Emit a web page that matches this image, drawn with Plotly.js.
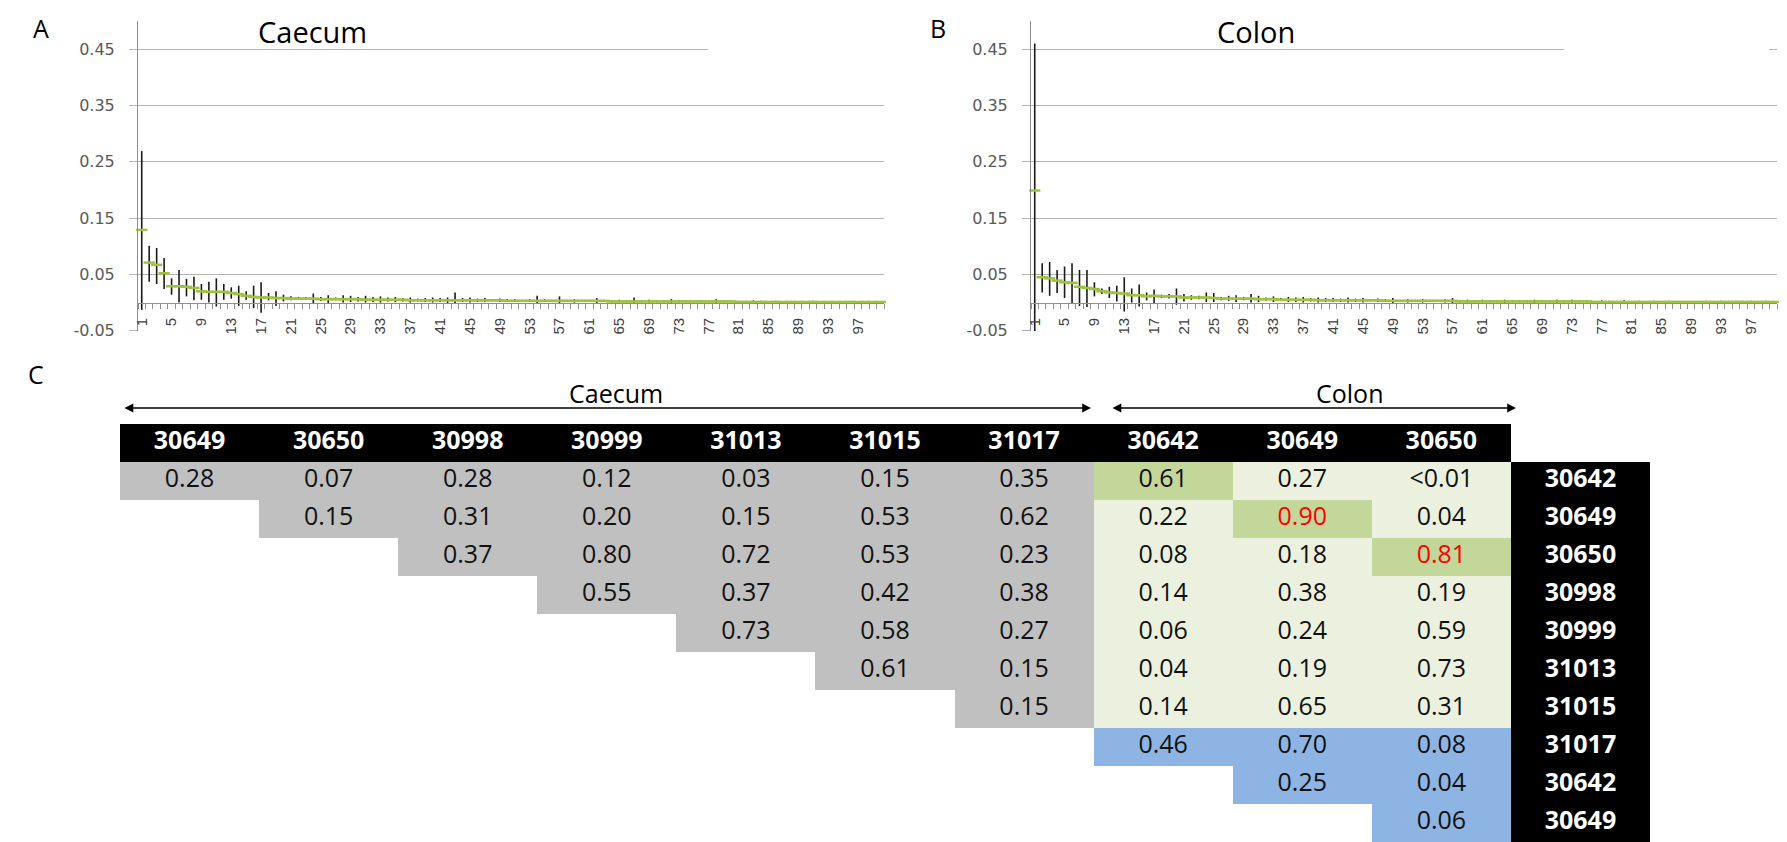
<!DOCTYPE html>
<html>
<head>
<meta charset="utf-8">
<script src="https://cdn.plot.ly/plotly-3.0.1.min.js"></script>
<style>html,body{margin:0;padding:0;background:#fff;}#chart{width:1787px;height:842px;}</style>
</head>
<body>
<div id="chart"></div>
<script>
// ---------- Panel A / B data (100 categories) ----------
const categories = Array.from({length: 100}, (_, i) => i + 1);
const xTickLabels = ['1','5','9','13','17','21','25','29','33','37','41','45','49','53','57','61','65','69','73','77','81','85','89','93','97'];
const yTickValues = [-0.05, 0.05, 0.15, 0.25, 0.35, 0.45];
const yTickLabels = ['-0.05', '0.05', '0.15', '0.25', '0.35', '0.45'];

const caecumMean = [0.129,0.071,0.067,0.052,0.029,0.029,0.028,0.026,0.020,0.019,
 0.019,0.019,0.017,0.015,0.012,0.010,0.009,0.009,0.008,0.008,
 0.007,0.007,0.007,0.007,0.006,0.006,0.006,0.006,0.006,0.006,
 0.005,0.005,0.005,0.005,0.005,0.005,0.004,0.004,0.004,0.004,
 0.004,0.004,0.004,0.004,0.004,0.004,0.004,0.004,0.004,0.003,
 0.003,0.003,0.003,0.003,0.003,0.003,0.003,0.003,0.003,0.003,
 0.003,0.003,0.003,0.002,0.002,0.002,0.002,0.002,0.002,0.002,
 0.002,0.002,0.002,0.002,0.002,0.002,0.002,0.002,0.002,0.002,
 0.001,0.001,0.001,0.001,0.001,0.001,0.001,0.001,0.001,0.001,
 0.001,0.001,0.001,0.001,0.001,0.001,0.001,0.001,0.001,0.001];
const caecumHigh = [0.269,0.101,0.097,0.079,0.043,0.058,0.042,0.046,0.033,0.037,
 0.043,0.033,0.027,0.030,0.020,0.030,0.036,0.017,0.020,0.014,
 0.011,0.010,0.010,0.016,0.010,0.013,0.009,0.013,0.012,0.010,
 0.012,0.010,0.011,0.009,0.010,0.008,0.009,0.007,0.008,0.009,
 0.008,0.009,0.018,0.008,0.009,0.007,0.008,0.006,0.007,0.006,
 0.006,0.005,0.006,0.012,0.006,0.005,0.011,0.005,0.006,0.005,
 0.005,0.008,0.005,0.004,0.005,0.004,0.009,0.004,0.005,0.004,
 0.004,0.006,0.004,0.004,0.003,0.004,0.003,0.006,0.003,0.003,
 0.003,0.003,0.004,0.003,0.002,0.003,0.002,0.003,0.002,0.002,
 0.003,0.002,0.002,0.002,0.002,0.003,0.002,0.002,0.002,0.002];
const caecumLow = [-0.013,0.037,0.033,0.024,0.014,0.000,0.011,0.004,0.005,0.000,
 -0.007,0.005,0.007,-0.006,0.005,-0.010,-0.018,0.004,-0.006,0.002,
 0.004,0.005,0.005,-0.002,0.003,-0.001,0.004,0.000,0.001,0.002,
 0.000,0.001,0.000,0.002,0.001,0.002,0.000,0.002,0.001,0.000,
 0.001,-0.001,-0.002,0.001,0.000,0.001,0.001,0.002,0.001,0.001,
 0.001,0.001,0.001,-0.002,0.001,0.001,-0.002,0.001,0.000,0.001,
 0.001,-0.001,0.001,0.000,0.000,0.000,-0.002,0.000,0.000,0.000,
 0.000,-0.001,0.000,0.000,0.000,0.000,0.000,-0.002,0.000,0.000,
 -0.001,-0.001,-0.001,-0.001,-0.001,-0.001,-0.001,-0.001,-0.001,-0.001,
 -0.001,-0.001,-0.001,-0.001,-0.001,-0.001,-0.001,-0.001,-0.001,-0.001];

const colonMean = [0.199,0.045,0.043,0.039,0.036,0.035,0.028,0.026,0.024,0.020,
 0.018,0.017,0.016,0.013,0.013,0.011,0.012,0.011,0.011,0.011,
 0.009,0.009,0.009,0.009,0.008,0.007,0.007,0.007,0.007,0.007,
 0.006,0.006,0.006,0.005,0.005,0.005,0.005,0.005,0.004,0.004,
 0.004,0.004,0.004,0.004,0.004,0.004,0.004,0.003,0.003,0.003,
 0.003,0.003,0.003,0.003,0.003,0.003,0.003,0.002,0.002,0.002,
 0.002,0.002,0.002,0.002,0.002,0.002,0.002,0.002,0.002,0.002,
 0.002,0.002,0.002,0.002,0.002,0.001,0.001,0.001,0.001,0.001,
 0.001,0.001,0.001,0.001,0.001,0.001,0.001,0.001,0.001,0.001,
 0.001,0.001,0.001,0.001,0.001,0.001,0.001,0.001,0.001,0.001];
const colonHigh = [0.460,0.070,0.072,0.058,0.064,0.070,0.058,0.058,0.036,0.025,
 0.028,0.030,0.045,0.025,0.032,0.018,0.023,0.014,0.015,0.025,
 0.015,0.013,0.012,0.018,0.017,0.010,0.012,0.013,0.010,0.015,
 0.012,0.009,0.011,0.008,0.010,0.009,0.010,0.008,0.009,0.008,
 0.008,0.007,0.009,0.007,0.008,0.006,0.007,0.006,0.008,0.005,
 0.006,0.005,0.006,0.005,0.005,0.006,0.008,0.004,0.005,0.004,
 0.005,0.004,0.004,0.005,0.004,0.004,0.004,0.005,0.004,0.004,
 0.005,0.004,0.005,0.004,0.004,0.003,0.004,0.003,0.003,0.004,
 0.003,0.003,0.003,0.003,0.003,0.003,0.003,0.003,0.003,0.003,
 0.003,0.003,0.003,0.003,0.003,0.003,0.003,0.003,0.003,0.003];
const colonLow = [-0.051,0.018,0.012,0.017,0.008,-0.001,-0.006,-0.008,0.011,0.015,
 0.008,0.002,-0.016,0.000,-0.007,0.004,-0.001,0.008,0.007,-0.004,
 0.002,0.005,0.006,0.001,0.001,0.004,0.003,0.001,0.004,0.000,
 0.001,0.003,0.001,0.003,0.001,0.001,0.000,0.002,0.000,0.001,
 0.001,0.001,0.000,0.001,0.000,0.002,0.001,0.001,-0.001,0.001,
 0.000,0.001,0.000,0.001,0.001,0.000,-0.001,0.000,0.000,0.000,
 0.000,0.000,0.000,-0.001,0.000,0.000,0.000,-0.001,0.000,0.000,
 -0.001,0.000,-0.001,0.000,0.000,-0.001,-0.001,-0.001,-0.001,-0.001,
 -0.001,-0.001,-0.001,-0.001,-0.001,-0.001,-0.001,-0.001,-0.001,-0.001,
 -0.001,-0.001,-0.001,-0.001,-0.001,-0.001,-0.001,-0.001,-0.001,-0.001];

// ---------- Panel C data (pairwise table) ----------
const colHeaders = ['30649','30650','30998','30999','31013','31015','31017','30642','30649','30650'];
const rowHeaders = ['30642','30649','30650','30998','30999','31013','31015','31017','30642','30649'];
const pValues = [
  ['0.28','0.07','0.28','0.12','0.03','0.15','0.35','0.61','0.27','<0.01'],
  ['',    '0.15','0.31','0.20','0.15','0.53','0.62','0.22','0.90','0.04'],
  ['',    '',    '0.37','0.80','0.72','0.53','0.23','0.08','0.18','0.81'],
  ['',    '',    '',    '0.55','0.37','0.42','0.38','0.14','0.38','0.19'],
  ['',    '',    '',    '',    '0.73','0.58','0.27','0.06','0.24','0.59'],
  ['',    '',    '',    '',    '',    '0.61','0.15','0.04','0.19','0.73'],
  ['',    '',    '',    '',    '',    '',    '0.15','0.14','0.65','0.31'],
  ['',    '',    '',    '',    '',    '',    '',    '0.46','0.70','0.08'],
  ['',    '',    '',    '',    '',    '',    '',    '',    '0.25','0.04'],
  ['',    '',    '',    '',    '',    '',    '',    '',    '',    '0.06']
];
const redCells = [[1, 8], [2, 9]];
const caecumColumnCount = 7;
const colonCaecumRowCount = 7;

// ---------- Figure geometry helpers ----------
const W = 1787, H = 842;
const px = v => v / W;
const py = v => 1 - v / H;

const GREEN = '#9dc33b';
const GRID = '#b5b5b5';
const AXIS = '#8f8f8f';

function rateTrace(mean, hi, lo, xa, ya) {
  return {
    type: 'scatter', mode: 'markers', x: categories, y: mean, xaxis: xa, yaxis: ya,
    marker: {symbol: 'line-ew', size: 8, line: {width: 2.5, color: GREEN}},
    error_y: {
      type: 'data', symmetric: false,
      array: hi.map((h, i) => Math.max(0, h - mean[i])),
      arrayminus: lo.map((l, i) => Math.max(0, mean[i] - l)),
      color: '#1a1a1a', thickness: 1.6, width: 0
    },
    hoverinfo: 'skip', cliponaxis: false
  };
}

// heatmap colour categories for the table
const colorIndex = {black: 1, grey: 2, lightGreen: 3, darkGreen: 4, blue: 5};
const zRows = [];
zRows.push(colHeaders.map(() => colorIndex.black).concat([null]));
pValues.forEach((row, r) => {
  const zr = row.map((v, c) => {
    if (v === '') return null;
    if (c < caecumColumnCount) return colorIndex.grey;
    if (r < colonCaecumRowCount) return (r === c - caecumColumnCount) ? colorIndex.darkGreen : colorIndex.lightGreen;
    return colorIndex.blue;
  });
  zr.push(colorIndex.black);
  zRows.push(zr);
});
const nCols = colHeaders.length + 1;
const tableX = Array.from({length: nCols}, (_, i) => i);
const tableY = Array.from({length: pValues.length + 1}, (_, i) => i);

const heat = {
  type: 'heatmap', x: tableX, y: tableY, z: zRows, xaxis: 'x3', yaxis: 'y3',
  zmin: 1, zmax: 5, showscale: false, hoverinfo: 'skip', xgap: 0, ygap: 0,
  colorscale: [[0, '#000000'], [0.125, '#000000'], [0.125, '#c0c0c0'], [0.375, '#c0c0c0'],
               [0.375, '#ebf1de'], [0.625, '#ebf1de'], [0.625, '#c4d79b'], [0.875, '#c4d79b'],
               [0.875, '#8db4e2'], [1, '#8db4e2']]
};

// texts
const hx = [], hy = [], ht = [];
colHeaders.forEach((h, c) => { hx.push(c); hy.push(0); ht.push('<b>' + h + '</b>'); });
rowHeaders.forEach((h, r) => { hx.push(colHeaders.length); hy.push(r + 1); ht.push('<b>' + h + '</b>'); });
const headerText = {
  type: 'scatter', mode: 'text', x: hx, y: hy, text: ht, xaxis: 'x3', yaxis: 'y3',
  textposition: 'middle center', hoverinfo: 'skip',
  textfont: {family: 'Open Sans, sans-serif', size: 25, color: '#ffffff'}
};
const vx = [], vy = [], vt = [], vc = [];
pValues.forEach((row, r) => row.forEach((v, c) => {
  if (v === '') return;
  vx.push(c); vy.push(r + 1); vt.push(v);
  vc.push(redCells.some(rc => rc[0] === r && rc[1] === c) ? '#ff0000' : '#111111');
}));
const valueText = {
  type: 'scatter', mode: 'text', x: vx, y: vy, text: vt, xaxis: 'x3', yaxis: 'y3',
  textposition: 'middle center', hoverinfo: 'skip',
  textfont: {family: 'Open Sans, sans-serif', size: 25, color: vc}
};

// ---------- axes ----------
const minorVals = Array.from({length: 101}, (_, i) => i + 0.5);
function xAxis(d0, d1) {
  return {
    domain: [px(d0), px(d1)], range: [0.5, 100.5], anchor: 'free', position: py(302.8),
    showline: true, linecolor: AXIS, linewidth: 1, showgrid: false, zeroline: false,
    tickmode: 'array', tickvals: xTickLabels.map(Number), ticktext: xTickLabels,
    ticks: '', tickangle: -90, ticklabelstandoff: 8,
    tickfont: {family: 'Liberation Sans, Arial, sans-serif', size: 15, color: '#404040'},
    minor: {tickmode: 'array', tickvals: minorVals, ticks: 'outside', ticklen: 5, tickcolor: AXIS, tickwidth: 1, showgrid: false},
    fixedrange: true, automargin: false
  };
}
function yAxis(anchor) {
  return {
    domain: [py(331), py(21)], range: [-0.0505, 0.5], anchor: anchor,
    tickmode: 'array', tickvals: yTickValues, ticktext: yTickLabels,
    showgrid: true, gridcolor: GRID, gridwidth: 1, zeroline: false,
    showline: true, linecolor: AXIS, linewidth: 1,
    ticks: 'outside', ticklen: 8, tickcolor: GRID, ticklabelstandoff: 11,
    tickfont: {family: 'DejaVu Sans, sans-serif', size: 16, color: '#595959'},
    fixedrange: true, automargin: false
  };
}

const font = 'Open Sans, sans-serif';
function label(text, x, y, size) {
  return {text: text, x: px(x), y: py(y), xref: 'paper', yref: 'paper', showarrow: false,
          xanchor: 'center', yanchor: 'middle', font: {family: font, size: size, color: '#000'}};
}
function arrow(x0, x1, y) {
  return {text: '', x: px(x1), y: py(y), xref: 'paper', yref: 'paper', showarrow: true,
          axref: 'pixel', ayref: 'pixel', ax: x0 - x1, ay: 0,
          arrowside: 'end+start', arrowhead: 2, startarrowhead: 2, arrowsize: 1.1, startarrowsize: 1.1,
          arrowwidth: 1.6, arrowcolor: '#000', standoff: 0, startstandoff: 0};
}

const layout = {
  width: W, height: H, margin: {l: 0, r: 0, t: 0, b: 0, pad: 0},
  paper_bgcolor: '#ffffff', plot_bgcolor: 'rgba(0,0,0,0)', showlegend: false,
  xaxis: xAxis(138, 884), yaxis: yAxis('x'),
  xaxis2: xAxis(1031, 1777), yaxis2: yAxis('x2'),
  xaxis3: {domain: [px(120), px(1650)], range: [-0.5, 10.5], anchor: 'y3', visible: false, fixedrange: true},
  yaxis3: {domain: [0, py(424)], range: [10.5, -0.5], anchor: 'x3', visible: false, fixedrange: true},
  shapes: [
    {type: 'rect', xref: 'paper', yref: 'y', x0: px(708), x1: px(890), y0: 0.446, y1: 0.454, fillcolor: '#fff', line: {width: 0}, layer: 'above'},
    {type: 'rect', xref: 'paper', yref: 'y2', x0: px(1564), x1: px(1769), y0: 0.446, y1: 0.454, fillcolor: '#fff', line: {width: 0}, layer: 'above'}
  ],
  annotations: [
    label('A', 41, 28, 25), label('B', 938, 28, 25), label('C', 36, 374, 25),
    label('Caecum', 312, 31, 29), label('Colon', 1256, 31, 29),
    label('Caecum', 616, 393, 25), label('Colon', 1349, 393, 25),
    arrow(123, 1091, 408), arrow(1111, 1516, 408)
  ]
};

Plotly.newPlot('chart', [
  rateTrace(caecumMean, caecumHigh, caecumLow, 'x', 'y'),
  rateTrace(colonMean, colonHigh, colonLow, 'x2', 'y2'),
  heat, headerText, valueText
], layout, {staticPlot: true, displayModeBar: false});
</script>
</body>
</html>
